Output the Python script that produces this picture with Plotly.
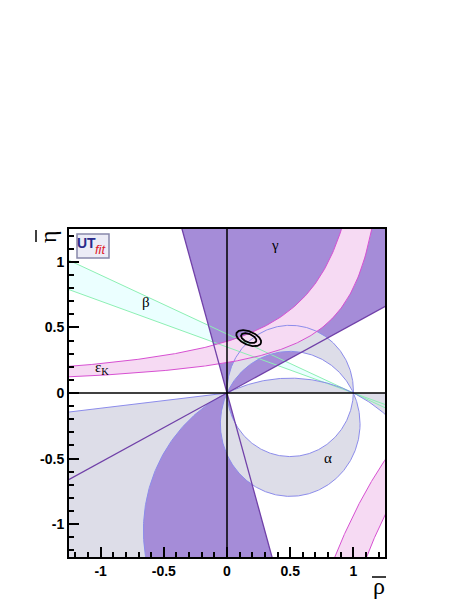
"""UTfit: область (rho-bar, eta-bar) с ограничениями gamma, beta, alpha, eps_K"""
import numpy as np
import plotly.graph_objects as go

# Оси
x_ticks = [-1, -0.5, 0, 0.5, 1]
x_labels = ['-1', '-0.5', '0', '0.5', '1']
y_ticks = [-1, -0.5, 0, 0.5, 1]
y_labels = ['-1', '-0.5', '0', '0.5', '1']

# gamma: клин из начала координат (градусы), плюс зеркальное решение +180
gamma_deg = [27.8, 105.9]
# beta: прямые через точку (1, 0)
beta_deg = [19.3, 24.2]
# alpha: окружности через (0,0) и (1,0), заданные вписанным углом на верхней дуге
alpha_circles = [88.2, 115.2, 154.5]
alpha_left_slope = 0.116  # верхний край левой области alpha
# eps_K: гиперболы eta = c + k / (a - rho)
epsK_a = [1.322, 1.405, -0.5, -0.25]
epsK_k = [0.52, 0.325, 4.41, 4.41]
epsK_c = [0.0, 0.0, 2.01, 2.01]
# результат фита: эллипсы 68% и 95%
ell_center = [0.172, 0.418]
ell_angle = -21.6
ell_a = [0.064, 0.104]
ell_b = [0.032, 0.051]

# Цвета
gamma_fill, gamma_line = '#a58cd8', '#7040a8'
alpha_fill, alpha_line = '#dddde8', '#8c8ceb'
beta_fill, beta_line = '#ebffff', '#8cf0b4'
eps_fill, eps_line = '#f6daf3', '#d750d2'

R = 3.0


def circle(alpha):
    c = 0.5 / np.tan(np.radians(alpha))
    r = np.hypot(0.5, c)
    th_o = np.degrees(np.arctan2(-c, -0.5)) % 360
    th_1 = np.degrees(np.arctan2(-c, 0.5))
    return c, r, th_o, th_1


def arc(c, r, t0, t1, n=300):
    t = np.radians(np.linspace(t0, t1, n))
    return 0.5 + r * np.cos(t), c + r * np.sin(t)


def epsK(i, rho):
    return epsK_c[i] + epsK_k[i] / (epsK_a[i] - rho)


fig = go.Figure()


def fill(x, y, color):
    fig.add_trace(go.Scatter(x=list(x), y=list(y), mode='lines', fill='toself',
                             fillcolor=color, line=dict(width=0),
                             hoverinfo='skip'))


def line(x, y, color, w=1.0):
    fig.add_trace(go.Scatter(x=list(x), y=list(y), mode='lines',
                             line=dict(color=color, width=w), hoverinfo='skip'))


def note(x, y, text, font, angle=0):
    # подпись в координатах листа (пиксели -> доли)
    fig.add_annotation(xref='paper', yref='paper', x=x, y=y, text=text, showarrow=False,
                       xanchor='center', yanchor='middle', textangle=angle, font=font)


# --- beta (заливка) ---
tb = np.tan(np.radians(beta_deg))
fill([1, 1 - R, 1 - R, 1, 1 + R, 1 + R, 1],
     [0, R * tb[0], R * tb[1], 0, -R * tb[1], -R * tb[0], 0], beta_fill)

# --- gamma (заливка) ---
for shift in [0, 180]:
    t = np.radians(np.linspace(gamma_deg[0], gamma_deg[1], 100) + shift)
    fill(np.r_[0, R * np.cos(t), 0], np.r_[0, R * np.sin(t), 0], gamma_fill)

# --- alpha (заливка) ---
cA, rA, oA, eA = circle(alpha_circles[0])
cB, rB, oB, eB = circle(alpha_circles[1])
cD, rD, oD, eD = circle(alpha_circles[2])
# верхний серп: внутри A, вне B
x1, y1 = arc(cA, rA, eA, oA)
x2, y2 = arc(cB, rB, oB, eB)
fill(np.r_[x1, x2], np.r_[y1, y2], alpha_fill)
# нижний серп: внутри B, вне A
x1, y1 = arc(cB, rB, oB, eB + 360)
x2, y2 = arc(cA, rA, eA + 360, oA)
fill(np.r_[x1, x2], np.r_[y1, y2], alpha_fill)
# под малой дугой D
x1, y1 = arc(cD, rD, eD, oD)
fill(x1, y1, alpha_fill)
# левая область
x1, y1 = arc(cD, rD, 205, oD)
fill(np.r_[0, -1.5, -1.5, x1], np.r_[0, -1.5 * alpha_left_slope, -1.6, y1], alpha_fill)
# правый клин
x1, y1 = arc(cD, rD, 30, eD)
fill(np.r_[1, 1.5, x1], np.r_[0, 0, y1], alpha_fill)

# --- eps_K (заливка) ---
r0 = np.linspace(-1.5, epsK_a[0] - epsK_k[0] / 1.5, 300)
r1 = np.linspace(epsK_a[1] - epsK_k[1] / 1.5, -1.5, 300)
fill(np.r_[r0, r1], np.r_[epsK(0, r0), epsK(1, r1)], eps_fill)
r2 = np.linspace(epsK_a[2] - epsK_k[2] / (-1.5 - epsK_c[2]), 1.5, 300)
r3 = np.linspace(1.5, epsK_a[3] - epsK_k[3] / (-1.5 - epsK_c[3]), 300)
fill(np.r_[r2, r3], np.r_[epsK(2, r2), epsK(3, r3)], eps_fill)

# --- линии ---
for b in tb:
    line([1 - R, 1 + R], [R * b, -R * b], beta_line)
for c, r in [(cA, rA), (cB, rB), (cD, rD)]:
    x1, y1 = arc(c, r, 0, 360, 600)
    line(x1, y1, alpha_line)
line([0, -1.5], [0, -1.5 * alpha_left_slope], alpha_line)
line(r0, epsK(0, r0), eps_line)
line(r1, epsK(1, r1), eps_line)
line(r2, epsK(2, r2), eps_line)
line(r3, epsK(3, r3), eps_line)
for g in gamma_deg:
    t = np.radians(g)
    line([-R * np.cos(t), R * np.cos(t)], [-R * np.sin(t), R * np.sin(t)], gamma_line, 1.3)

# оси через ноль
line([-1.25, 1.25], [0, 0], 'black', 1.5)
line([0, 0], [-1.25, 1.25], 'black', 1.5)

# эллипсы фита
phi = np.radians(ell_angle)
t = np.linspace(0, 2 * np.pi, 200)
for a, b in zip(ell_a, ell_b):
    ex = ell_center[0] + a * np.cos(t) * np.cos(phi) - b * np.sin(t) * np.sin(phi)
    ey = ell_center[1] + a * np.cos(t) * np.sin(phi) + b * np.sin(t) * np.cos(phi)
    line(ex, ey, 'black', 1.8)

# подписи
labels = [('γ', 0.38, 1.13), ('β', -0.643, 0.692), ('ε<sub>K</sub>', -0.99, 0.19),
          ('α', 0.8, -0.496)]
for txt, lx, ly in labels:
    fig.add_annotation(x=lx, y=ly, text=txt, showarrow=False, xanchor='center',
                       yanchor='middle',
                       font=dict(family='Liberation Serif', size=15, color='black'))

# область графика: 316 x 328 px, левый верхний угол (61, 221) внутри фигуры
W, H, L, T = 316, 328, 61, 221


def px(x, y):
    return (x - 8 - L) / W, (T + H - (y - 8)) / H


# заголовки осей (с чертой сверху)
serif = dict(family='Liberation Serif', size=24, color='black')
note(*px(379, 586), 'ρ', serif)
bx0, by0 = px(372, 577)
bx1, _ = px(386, 577)
fig.add_shape(type='line', xref='paper', yref='paper', x0=bx0, x1=bx1, y0=by0, y1=by0,
              line=dict(color='black', width=1.5))
note(*px(48, 237), 'η', serif, -90)
bx0, by0 = px(36, 230)
_, by1 = px(36, 242)
fig.add_shape(type='line', xref='paper', yref='paper', x0=bx0, x1=bx0, y0=by0, y1=by1,
              line=dict(color='black', width=1.5))

# логотип UTfit
lx0, ly0 = px(77, 234)
lx1, ly1 = px(109, 258)
fig.add_shape(type='rect', xref='paper', yref='paper', x0=lx0, x1=lx1, y0=ly1, y1=ly0,
              fillcolor='#ececf6', line=dict(color='#8888aa', width=1.5))
note(*px(86, 243), '<b>UT</b>', dict(family='Liberation Sans', size=14, color='#2a2a8a'))
note(*px(100.5, 249), '<i>fit</i>', dict(family='Liberation Sans', size=13, color='#e0202a'))

axis = dict(range=[-1.25, 1.25], showgrid=False, zeroline=False, ticks='inside', ticklen=10,
            tickwidth=1.5, tickcolor='black', showline=True, linecolor='black', linewidth=2,
            mirror=True,
            tickfont=dict(family='Liberation Sans', size=14, color='black', weight='bold'),
            minor=dict(ticks='inside', ticklen=5, tickwidth=1.5, tickcolor='black',
                       tickmode='linear', tick0=0, dtick=0.1, showgrid=False))
fig.update_layout(width=455, height=591, margin=dict(l=L, r=455 - L - W, t=T, b=591 - T - H),
                  paper_bgcolor='white', plot_bgcolor='white', showlegend=False,
                  xaxis=dict(axis, tickvals=x_ticks, ticktext=x_labels),
                  yaxis=dict(axis, tickvals=y_ticks, ticktext=y_labels))

fig.write_html("out.html")
